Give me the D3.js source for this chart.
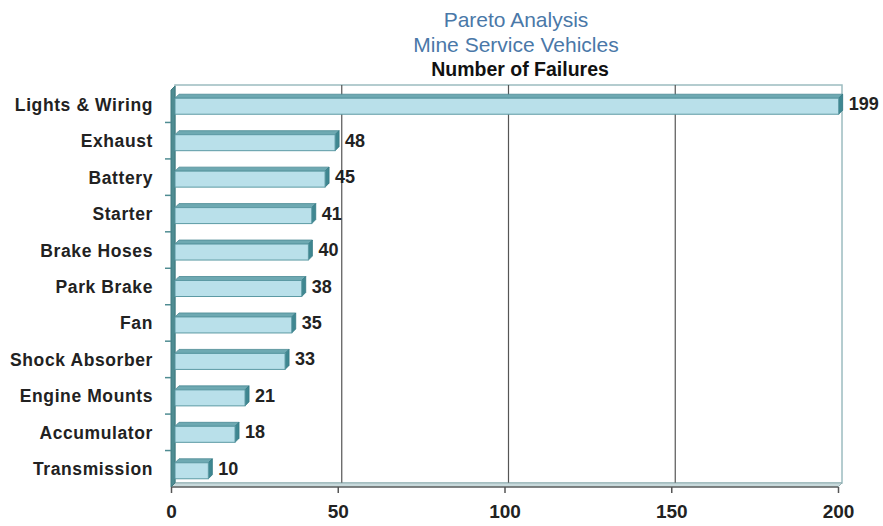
<!DOCTYPE html>
<html>
<head>
<meta charset="utf-8">
<script src="https://cdn.jsdelivr.net/npm/d3@7"></script>
<style>
  body { margin: 0; background: #fff; }
  text { font-family: Arial, "Liberation Sans", sans-serif; }
</style>
</head>
<body>
<div id="chart"></div>
<script>
var categories = ["Lights & Wiring", "Exhaust", "Battery", "Starter", "Brake Hoses",
  "Park Brake", "Fan", "Shock Absorber", "Engine Mounts", "Accumulator", "Transmission"];
var failures = [199, 48, 45, 41, 40, 38, 35, 33, 21, 18, 10];
var xTicks = [0, 50, 100, 150, 200];
var titleLines = ["Pareto Analysis", "Mine Service Vehicles"];
var subTitle = "Number of Failures";

var W = 883, H = 526;
var margin = {top: 86, right: 41, bottom: 39, left: 171};
var width = W - margin.left - margin.right,
    height = H - margin.top - margin.bottom;
var DEPTH = 4;  // 3d offset
var BAR_H = 16;

var svg = d3.select("#chart").append("svg")
    .attr("width", W)
    .attr("height", H);

// titles
svg.selectAll(".title").data(titleLines).enter().append("text")
    .attr("class", "title")
    .attr("x", 516).attr("y", function(d, i) { return 27 + i * 25; })
    .attr("text-anchor", "middle")
    .style("font-size", "21px")
    .style("fill", "#4a78a8")
    .text(function(d) { return d; });
svg.append("text")
    .attr("x", 520).attr("y", 76)
    .attr("text-anchor", "middle")
    .style("font-size", "19.5px").style("font-weight", "bold").style("fill", "#111")
    .text(subTitle);

var g = svg.append("g")
    .attr("transform", "translate(" + margin.left + "," + margin.top + ")");

var xScale = d3.scaleLinear().domain([0, 200]).range([0, width - DEPTH]);
var yScale = d3.scaleBand().domain(categories).range([0, height]);

// back wall
g.append("rect")
    .attr("x", DEPTH).attr("y", -DEPTH + 3)
    .attr("width", width - DEPTH).attr("height", height - 3)
    .style("fill", "#fff").style("stroke", "#9cbcc0").style("stroke-width", 1.5);

// gridlines on back wall
g.selectAll(".grid").data(xTicks.slice(1, -1)).enter().append("line")
    .attr("class", "grid")
    .attr("x1", function(d) { return xScale(d) + DEPTH; })
    .attr("x2", function(d) { return xScale(d) + DEPTH; })
    .attr("y1", -DEPTH + 3).attr("y2", height - DEPTH)
    .style("stroke", "#555").style("stroke-width", 1.2);

// floor
g.append("path")
    .attr("d", "M0," + height + "L" + DEPTH + "," + (height - DEPTH) +
      "L" + (width) + "," + (height - DEPTH) + "L" + (width - DEPTH) + "," + height + "Z")
    .style("fill", "#c8dadc").style("stroke", "#8aa6aa").style("stroke-width", 0.8);
g.append("line")
    .attr("x1", 0).attr("x2", width - DEPTH).attr("y1", height).attr("y2", height)
    .style("stroke", "#666").style("stroke-width", 1.5);

// left wall
g.append("path")
    .attr("d", "M0,4L" + DEPTH + ",0L" + DEPTH + "," + (height - DEPTH) + "L0," + height + "Z")
    .style("fill", "#4f8c92").style("stroke", "#3f7a80").style("stroke-width", 1);

// y axis ticks
g.selectAll(".ytick").data(categories.slice(1)).enter().append("line")
    .attr("class", "ytick")
    .attr("x1", -6).attr("x2", 0)
    .attr("y1", function(d) { return yScale(d); })
    .attr("y2", function(d) { return yScale(d); })
    .style("stroke", "#4f8c92").style("stroke-width", 1.5);

// category labels
g.selectAll(".cat").data(categories).enter().append("text")
    .attr("class", "cat")
    .attr("x", -18)
    .attr("y", function(d) { return yScale(d) + yScale.bandwidth() / 2 + 6.5; })
    .attr("text-anchor", "end")
    .style("font-size", "17.5px").style("font-weight", "bold")
    .style("letter-spacing", "0.6px").style("fill", "#222")
    .text(function(d) { return d; });

// x axis
var xAxis = g.append("g")
    .attr("transform", "translate(0," + height + ")")
    .call(d3.axisBottom(xScale).tickValues(xTicks).tickSize(6).tickSizeOuter(0));
xAxis.select(".domain").remove();
xAxis.selectAll("line").style("stroke", "#555").style("stroke-width", 1.5);
xAxis.selectAll("text")
    .attr("y", 12).attr("dy", "1em")
    .style("font-size", "19px").style("font-weight", "bold").style("fill", "#222");

// bars (3d)
var bars = g.selectAll(".bar").data(categories).enter().append("g")
    .attr("class", "bar")
    .attr("transform", function(d) {
      return "translate(" + DEPTH + "," + (yScale(d) + yScale.bandwidth() / 2 - BAR_H / 2 + 2) + ")";
    });

bars.append("path") // top face
    .attr("d", function(d, i) {
      var w = xScale(failures[i]);
      return "M0,0L" + DEPTH + "," + (-DEPTH) + "L" + (w + DEPTH) + "," + (-DEPTH) + "L" + w + ",0Z";
    })
    .style("fill", "#6ea9b2").style("stroke", "#4b8a94").style("stroke-width", 0.8);

bars.append("path") // end face
    .attr("d", function(d, i) {
      var w = xScale(failures[i]);
      return "M" + w + ",0L" + (w + DEPTH) + "," + (-DEPTH) + "L" + (w + DEPTH) + "," + (BAR_H - DEPTH) +
        "L" + w + "," + BAR_H + "Z";
    })
    .style("fill", "#3f8791").style("stroke", "#347a84").style("stroke-width", 0.8);

bars.append("rect") // front face
    .attr("x", 0).attr("y", 0)
    .attr("width", function(d, i) { return xScale(failures[i]); })
    .attr("height", BAR_H)
    .style("fill", "#b9e0ea").style("stroke", "#5c9aa4").style("stroke-width", 1);

// value labels
bars.append("text")
    .attr("x", function(d, i) { return xScale(failures[i]) + DEPTH + 6; })
    .attr("y", BAR_H / 2 - 2 + 6)
    .style("font-size", "18px").style("font-weight", "bold").style("fill", "#222")
    .text(function(d, i) { return failures[i]; });
</script>
</body>
</html>
